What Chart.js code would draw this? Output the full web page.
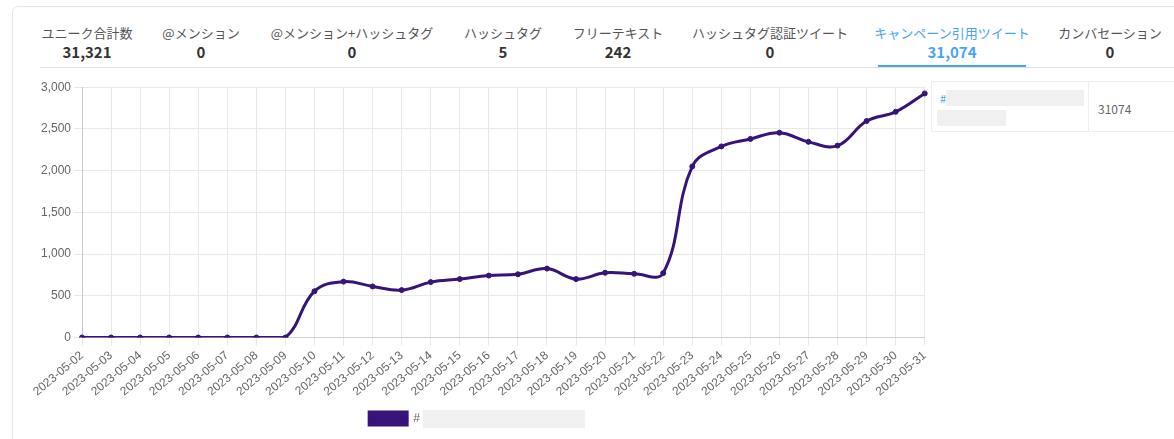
<!DOCTYPE html>
<html>
<head>
<meta charset="utf-8">
<script src="https://cdn.jsdelivr.net/npm/chart.js@4.4.0/dist/chart.umd.min.js"></script>
<style>
  body { margin: 0; background: #fff; font-family: "Noto Sans CJK JP", "Noto Sans", sans-serif; }
  .card { position: absolute; left: 12px; top: 6px; width: 1180px; height: 450px; border: 1px solid #e4e6ea; border-radius: 6px; }
  .tabs { position: absolute; left: 40px; top: 22px; width: 1134px; height: 45px; border-bottom: 1px solid #dde2e8; }
  .tab { position: absolute; top: 0; text-align: center; color: #555; font-size: 13px; line-height: 20px; white-space: nowrap; transform: translateX(-50%); }
  .tab b { display: block; font-size: 15px; color: #333; line-height: 18px; }
  .tab.active, .tab.active b { color: #4aa3f3; }
  .underline { position: absolute; left: 878px; top: 65px; width: 148px; height: 2px; background: #4aa3f3; }
  .chartbox { position: absolute; left: 32px; top: 77px; width: 905px; height: 358px; }
  .side { position: absolute; left: 931px; top: 81px; width: 250px; height: 49px; border: 1px solid #eceef0; font-size: 12px; background: #fff; }
  .side .c1 { position: absolute; left: 0; top: 0; width: 156px; height: 49px; border-right: 1px solid #eceef0; }
  .side .hash { position: absolute; left: 8px; top: 8px; color: #4aa3f3; font-size: 11px; }
  .side .r1 { position: absolute; left: 14px; top: 8px; width: 138px; height: 16px; background: #f0f0f0; }
  .side .r2 { position: absolute; left: 5px; top: 28px; width: 69px; height: 16px; background: #f0f0f0; }
  .side .c2 { position: absolute; left: 166px; top: 18px; color: #666; font-size: 12px; }
</style>
</head>
<body>
<div class="card"></div>
<div class="tabs"></div>
<div id="tabrow"></div>
<div class="underline"></div>
<div class="chartbox"><canvas id="quoteChart"></canvas></div>
<div class="side">
  <div class="c1"><span class="hash">#</span><div class="r1"></div><div class="r2"></div></div>
  <div class="c2">31074</div>
</div>
<script>
// タブ
const tabLabels = ['ユニーク合計数', '@メンション', '@メンション+ハッシュタグ', 'ハッシュタグ', 'フリーテキスト', 'ハッシュタグ認証ツイート', 'キャンペーン引用ツイート', 'カンバセーション'];
const tabValues = ['31,321', '0', '0', '5', '242', '0', '31,074', '0'];
const tabCenters = [87, 201, 352, 503, 618, 770, 952, 1110];
const activeTab = 6;

// グラフデータ
const dates = ['2023-05-02', '2023-05-03', '2023-05-04', '2023-05-05', '2023-05-06', '2023-05-07', '2023-05-08', '2023-05-09', '2023-05-10', '2023-05-11',
    '2023-05-12', '2023-05-13', '2023-05-14', '2023-05-15', '2023-05-16', '2023-05-17', '2023-05-18', '2023-05-19', '2023-05-20', '2023-05-21',
    '2023-05-22', '2023-05-23', '2023-05-24', '2023-05-25', '2023-05-26', '2023-05-27', '2023-05-28', '2023-05-29', '2023-05-30', '2023-05-31'];
const quoteCounts = [0, 0, 0, 0, 0, 0, 0, 0, 555, 670,
    612, 568, 664, 700, 742, 758, 826, 700, 776, 764,
    772, 2050, 2290, 2380, 2455, 2345, 2300, 2595, 2705, 2925];
const seriesLabel = '#' + '\u2003'.repeat(15);

const tabRow = document.getElementById('tabrow');
tabLabels.forEach((label, i) => {
    const el = document.createElement('div');
    el.className = 'tab' + (i === activeTab ? ' active' : '');
    el.style.left = tabCenters[i] + 'px';
    el.style.top = '23px';
    el.innerHTML = label + '<b>' + tabValues[i] + '</b>';
    tabRow.appendChild(el);
});

// 凡例の伏せ字部分
const redactPlugin = {
    id: 'redact',
    afterDraw(chart) {
        const legend = chart.legend;
        if (!legend || !legend.legendHitBoxes.length) return;
        const box = legend.legendHitBoxes[0];
        const ctx = chart.ctx;
        ctx.save();
        ctx.font = '12px "Liberation Sans", Arial, sans-serif';
        const start = box.left + 38 + 6 + ctx.measureText('#').width + 3;
        ctx.fillStyle = '#f0f0f0';
        ctx.fillRect(start, box.top - 2, 162, 18);
        ctx.restore();
    }
};

const ctx = document.getElementById('quoteChart').getContext('2d');
const quoteChart = new Chart(ctx, {
    type: 'line',
    data: {
        labels: dates,
        datasets: [{
            label: seriesLabel,
            data: quoteCounts,
            borderColor: '#361479',
            backgroundColor: '#361479',
            borderWidth: 3,
            pointRadius: 2.5,
            pointBorderWidth: 1,
            pointBackgroundColor: '#361479',
            tension: 0.4,
            fill: false
        }]
    },
    options: {
        responsive: true,
        maintainAspectRatio: false,
        animation: false,
        plugins: {
            tooltip: { enabled: false },
            legend: {
                position: 'bottom',
                labels: {
                    boxWidth: 38,
                    boxHeight: 13,
                    color: '#666',
                    padding: 10,
                    font: { size: 12, family: '"Liberation Sans", Arial, sans-serif' }
                }
            }
        },
        scales: {
            x: {
                grid: { color: '#e8e8e8' },
                border: { color: '#d0d0d0' },
                ticks: {
                    color: '#666',
                    minRotation: 40,
                    maxRotation: 40,
                    autoSkip: false,
                    font: { size: 12, family: '"Liberation Sans", Arial, sans-serif' }
                }
            },
            y: {
                min: 0,
                max: 3000,
                grid: { color: '#e8e8e8' },
                border: { color: '#c8c8c8' },
                ticks: {
                    stepSize: 500,
                    color: '#666',
                    font: { size: 12, family: '"Liberation Sans", Arial, sans-serif' },
                    callback: v => v.toLocaleString('en-US')
                }
            }
        }
    },
    plugins: [redactPlugin]
});
</script>
</body>
</html>
